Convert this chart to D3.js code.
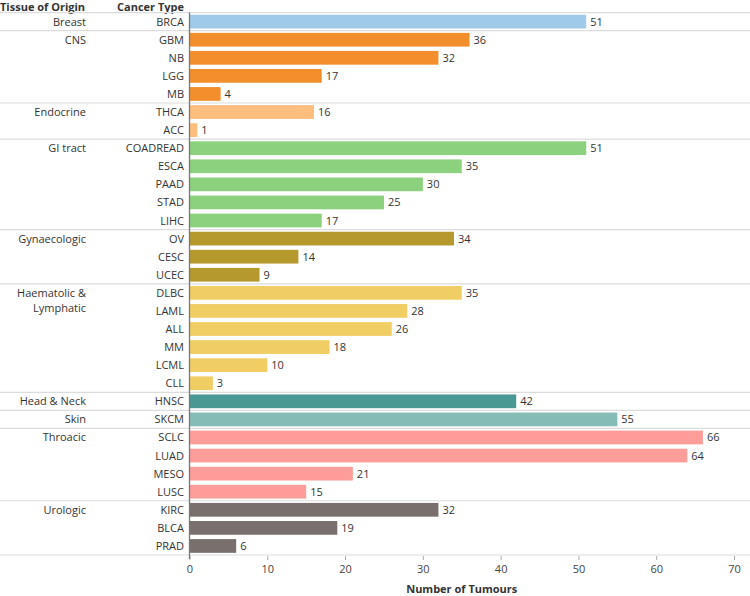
<!DOCTYPE html>
<html>
<head>
<meta charset="utf-8">
<script src="https://cdn.jsdelivr.net/npm/d3@7"></script>
<style>
  body { margin: 0; background: #fff; }
  svg { display: block; font-family: "Open Sans", sans-serif; }
</style>
</head>
<body>
<svg id="chart"></svg>
<script>
// data
var cancerTypes = ['BRCA', 'GBM', 'NB', 'LGG', 'MB', 'THCA', 'ACC', 'COADREAD', 'ESCA', 'PAAD', 'STAD', 'LIHC',
    'OV', 'CESC', 'UCEC', 'DLBC', 'LAML', 'ALL', 'MM', 'LCML', 'CLL', 'HNSC', 'SKCM',
    'SCLC', 'LUAD', 'MESO', 'LUSC', 'KIRC', 'BLCA', 'PRAD'];
var tumourCounts = [51, 36, 32, 17, 4, 16, 1, 51, 35, 30, 25, 17,
    34, 14, 9, 35, 28, 26, 18, 10, 3, 42, 55,
    66, 64, 21, 15, 32, 19, 6];
var tissueOfType = ['Breast', 'CNS', 'CNS', 'CNS', 'CNS', 'Endocrine', 'Endocrine',
    'GI tract', 'GI tract', 'GI tract', 'GI tract', 'GI tract',
    'Gynaecologic', 'Gynaecologic', 'Gynaecologic',
    'Haematolic & Lymphatic', 'Haematolic & Lymphatic', 'Haematolic & Lymphatic',
    'Haematolic & Lymphatic', 'Haematolic & Lymphatic', 'Haematolic & Lymphatic',
    'Head & Neck', 'Skin', 'Throacic', 'Throacic', 'Throacic', 'Throacic',
    'Urologic', 'Urologic', 'Urologic'];
var tissues = ['Breast', 'CNS', 'Endocrine', 'GI tract', 'Gynaecologic', 'Haematolic & Lymphatic',
    'Head & Neck', 'Skin', 'Throacic', 'Urologic'];
var tissueColors = ['#a0cbe8', '#f28e2b', '#ffbe7d', '#8cd17d', '#b6992d', '#f1ce63',
    '#499894', '#86bcb6', '#ff9d9a', '#79706e'];
var xTicks = [0, 10, 20, 30, 40, 50, 60, 70];

var width = 750, height = 596;
var plotTop = 12.6, plotBottom = 555;
var x0 = 189.5, x1 = 734;

var rows = cancerTypes.map(function(c, i) {
    return { type: c, count: tumourCounts[i], tissue: tissueOfType[i] };
});

var svg = d3.select('#chart')
    .attr('width', width)
    .attr('height', height);

var x = d3.scaleLinear().domain([0, 70]).range([x0, x1]);
var y = d3.scaleBand().domain(cancerTypes).range([plotTop, plotBottom])
    .paddingInner(0.24).paddingOuter(0.12);
var step = y.step();
var color = d3.scaleOrdinal().domain(tissues).range(tissueColors);

// header
svg.append('text').text('Tissue of Origin')
    .attr('x', 0).attr('y', 10.5)
    .attr('font-size', '11px').attr('font-weight', 'bold').attr('fill', '#333');
svg.append('text').text('Cancer Type')
    .attr('x', 184).attr('y', 10.5)
    .attr('text-anchor', 'end')
    .attr('font-size', '11px').attr('font-weight', 'bold').attr('fill', '#333');

// group separators
var groupStarts = tissues.map(function(t) { return tissueOfType.indexOf(t); });
var lines = groupStarts.concat([cancerTypes.length]);
svg.selectAll('line.sep').data(lines)
    .enter()
    .append('line')
    .attr('class', 'sep')
    .attr('x1', 0).attr('x2', width)
    .attr('y1', function(i) { return plotTop + i * step; })
    .attr('y2', function(i) { return plotTop + i * step; })
    .attr('stroke', '#dcdcdc')
    .attr('stroke-width', 1.2);

// tissue labels at first row of each group
svg.selectAll('text.tissue').data(tissues)
    .enter()
    .append('text')
    .attr('class', 'tissue')
    .attr('text-anchor', 'end')
    .attr('font-size', '11px')
    .attr('fill', '#333')
    .each(function(t, i) {
        var yy = plotTop + groupStarts[i] * step + step / 2 + 4;
        var parts = t === 'Haematolic & Lymphatic' ? ['Haematolic &', 'Lymphatic'] : [t];
        var el = d3.select(this);
        parts.forEach(function(p, k) {
            el.append('tspan').attr('x', 86).attr('y', yy + k * 15.5).text(p);
        });
    });

// cancer type labels
svg.selectAll('text.ctype').data(rows)
    .enter()
    .append('text')
    .attr('class', 'ctype')
    .text(function(d) { return d.type; })
    .attr('x', 184)
    .attr('y', function(d) { return y(d.type) + y.bandwidth() / 2 + 4; })
    .attr('text-anchor', 'end')
    .attr('font-size', '11px')
    .attr('fill', '#333');

// bars
svg.selectAll('rect.bar').data(rows)
    .enter()
    .append('rect')
    .attr('class', 'bar')
    .attr('x', x(0))
    .attr('y', function(d) { return y(d.type); })
    .attr('width', function(d) { return x(d.count) - x(0); })
    .attr('height', y.bandwidth())
    .attr('fill', function(d) { return color(d.tissue); });

// value labels
svg.selectAll('text.val').data(rows)
    .enter()
    .append('text')
    .attr('class', 'val')
    .text(function(d) { return d.count; })
    .attr('x', function(d) { return x(d.count) + 4; })
    .attr('y', function(d) { return y(d.type) + y.bandwidth() / 2 + 4; })
    .attr('font-size', '11px')
    .attr('fill', '#333');

// axis
var axis = svg.append('g')
    .attr('transform', 'translate(0,' + plotBottom + ')')
    .call(d3.axisBottom(x).tickValues(xTicks).tickSize(4).tickPadding(6));
axis.select('.domain').remove();
axis.selectAll('line').attr('stroke', '#aaa').attr('transform', 'translate(0,1)');
axis.selectAll('text').attr('font-size', '11px').attr('fill', '#444')
    .attr('font-family', '"Open Sans", sans-serif');

// vertical zero line
svg.append('line')
    .attr('x1', x(0)).attr('x2', x(0))
    .attr('y1', plotTop).attr('y2', plotBottom + 4)
    .attr('stroke', '#777').attr('stroke-width', 1.3);

svg.append('text').text('Number of Tumours')
    .attr('x', (x0 + x1) / 2).attr('y', 593)
    .attr('text-anchor', 'middle')
    .attr('font-size', '11px').attr('font-weight', 'bold').attr('fill', '#333');
</script>
</body>
</html>
